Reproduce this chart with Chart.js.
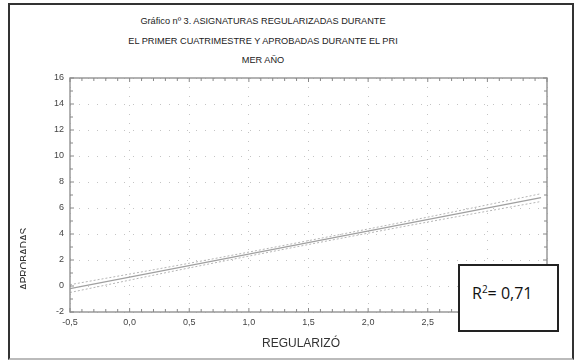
<!DOCTYPE html>
<html>
<head>
<meta charset="utf-8">
<script src="https://cdn.jsdelivr.net/npm/chart.js@4"></script>
<style>
  body { margin:0; background:#fff; }
  #wrap { position:relative; width:576px; height:363px; overflow:hidden; font-family:"Liberation Sans", Arial, sans-serif; }
  #frame { position:absolute; left:8px; top:3px; width:562px; height:353px; border:2px solid #333; border-bottom-color:#bbb; box-sizing:content-box; }
  canvas { position:absolute; left:0; top:0; }
  .title { position:absolute; left:0; width:526px; text-align:center; font-size:9.2px; color:#222; }
  #xtitle { position:absolute; left:262px; top:336px; font-size:12px; color:#333; }
  #ylab { position:absolute; left:18px; top:226px; width:8px; height:68px; overflow:hidden; }
  #ylab span { position:absolute; left:-23px; top:28px; width:60px; height:12px; line-height:12px; text-align:center; font-size:10px; color:#333; transform:rotate(-90deg); }
  #r2 { position:absolute; left:458px; top:264px; width:97px; height:64px; border:2px solid #222; background:#fff; font-family:"Open Sans", sans-serif; font-size:16px; color:#111; }
  #r2 div { position:absolute; left:12px; top:16px; }
  #r2 sup { font-size:10px; }
</style>
</head>
<body>
<div id="wrap">
  <div id="frame"></div>
  <div class="title" style="top:16px">Gráfico nº 3. ASIGNATURAS REGULARIZADAS DURANTE</div>
  <div class="title" style="top:36px">EL PRIMER CUATRIMESTRE Y APROBADAS DURANTE EL PRI</div>
  <div class="title" style="top:55px">MER AÑO</div>
  <canvas id="c" width="576" height="363"></canvas>
  <div id="ylab"><span>APROBADAS</span></div>
  <div id="xtitle">REGULARIZÓ</div>
  <div id="r2"><div>R<sup>2</sup>= 0,71</div></div>
</div>
<script>
// axis ranges
const xRange = [-0.5, 3.5];
const yRange = [-2, 16];

// regression line and confidence band
const fitX = [-0.5, 3.45];
const fitY = [-0.2, 6.8];
const bandX = [-0.5, 0.5, 1.5, 2.5, 3.45];
const bandUpper = [0.1, 1.75, 3.49, 5.3, 7.1];
const bandLower = [-0.5, 1.39, 3.19, 4.92, 6.5];

const pts = (xs, ys) => xs.map((x, i) => ({x, y: ys[i]}));

const isMajorX = v => Math.abs(v * 2 - Math.round(v * 2)) < 1e-6;
const isMajorY = v => Math.abs(v / 2 - Math.round(v / 2)) < 1e-6;

// frame and inward tick marks on all four sides
const frameTicks = {
  id: 'frameTicks',
  afterDraw(chart) {
    const {ctx, chartArea: a, scales} = chart;
    ctx.save();
    ctx.strokeStyle = '#999';
    ctx.lineWidth = 1.5;
    ctx.strokeRect(a.left, a.top, a.right - a.left, a.bottom - a.top);
    ctx.lineWidth = 1;
    ctx.strokeStyle = '#888';
    ctx.beginPath();
    scales.x.ticks.forEach(t => {
      const px = scales.x.getPixelForValue(t.value);
      const len = isMajorX(t.value) ? 4 : 3;
      ctx.moveTo(px, a.bottom); ctx.lineTo(px, a.bottom - len);
      ctx.moveTo(px, a.top); ctx.lineTo(px, a.top + len);
    });
    scales.y.ticks.forEach(t => {
      const py = scales.y.getPixelForValue(t.value);
      const len = isMajorY(t.value) ? 4 : 3;
      ctx.moveTo(a.left, py); ctx.lineTo(a.left + len, py);
      ctx.moveTo(a.right, py); ctx.lineTo(a.right - len, py);
    });
    ctx.stroke();
    ctx.restore();
  }
};

new Chart(document.getElementById('c'), {
  type: 'scatter',
  data: {
    datasets: [
      { data: pts(fitX, fitY), showLine: true, borderColor: '#a0a0a0', borderWidth: 1.3, pointRadius: 0 },
      { data: pts(bandX, bandUpper), showLine: true, borderColor: '#b5b5b5', borderWidth: 1, borderDash: [2, 2], pointRadius: 0, cubicInterpolationMode: 'monotone' },
      { data: pts(bandX, bandLower), showLine: true, borderColor: '#b5b5b5', borderWidth: 1, borderDash: [2, 2], pointRadius: 0, cubicInterpolationMode: 'monotone' }
    ]
  },
  options: {
    responsive: false,
    animation: false,
    layout: { padding: { left: 20, top: 78, right: 29, bottom: 0 } },
    plugins: { legend: { display: false }, tooltip: { enabled: false } },
    scales: {
      x: {
        type: 'linear', min: xRange[0], max: xRange[1],
        afterFit: s => { s.height = 51; },
        ticks: {
          stepSize: 0.1, padding: 5, autoSkip: false, maxRotation: 0,
          color: '#444', font: { family: 'Liberation Sans', size: 9 },
          callback: v => isMajorX(v) ? v.toFixed(1).replace('.', ',') : ''
        },
        grid: { drawTicks: false, color: c => isMajorX(c.tick.value) ? '#c4c4c4' : 'rgba(0,0,0,0)' },
        border: { display: false, dash: [1, 8] }
      },
      y: {
        type: 'linear', min: yRange[0], max: yRange[1],
        afterFit: s => { s.width = 50; },
        ticks: {
          stepSize: 1, padding: 6, autoSkip: false,
          color: '#444', font: { family: 'Liberation Sans', size: 9 },
          callback: v => isMajorY(v) ? String(v) : ''
        },
        grid: { drawTicks: false, color: c => isMajorY(c.tick.value) ? '#c4c4c4' : 'rgba(0,0,0,0)' },
        border: { display: false, dash: [1, 8] }
      }
    }
  },
  plugins: [frameTicks]
});
</script>
</body>
</html>
